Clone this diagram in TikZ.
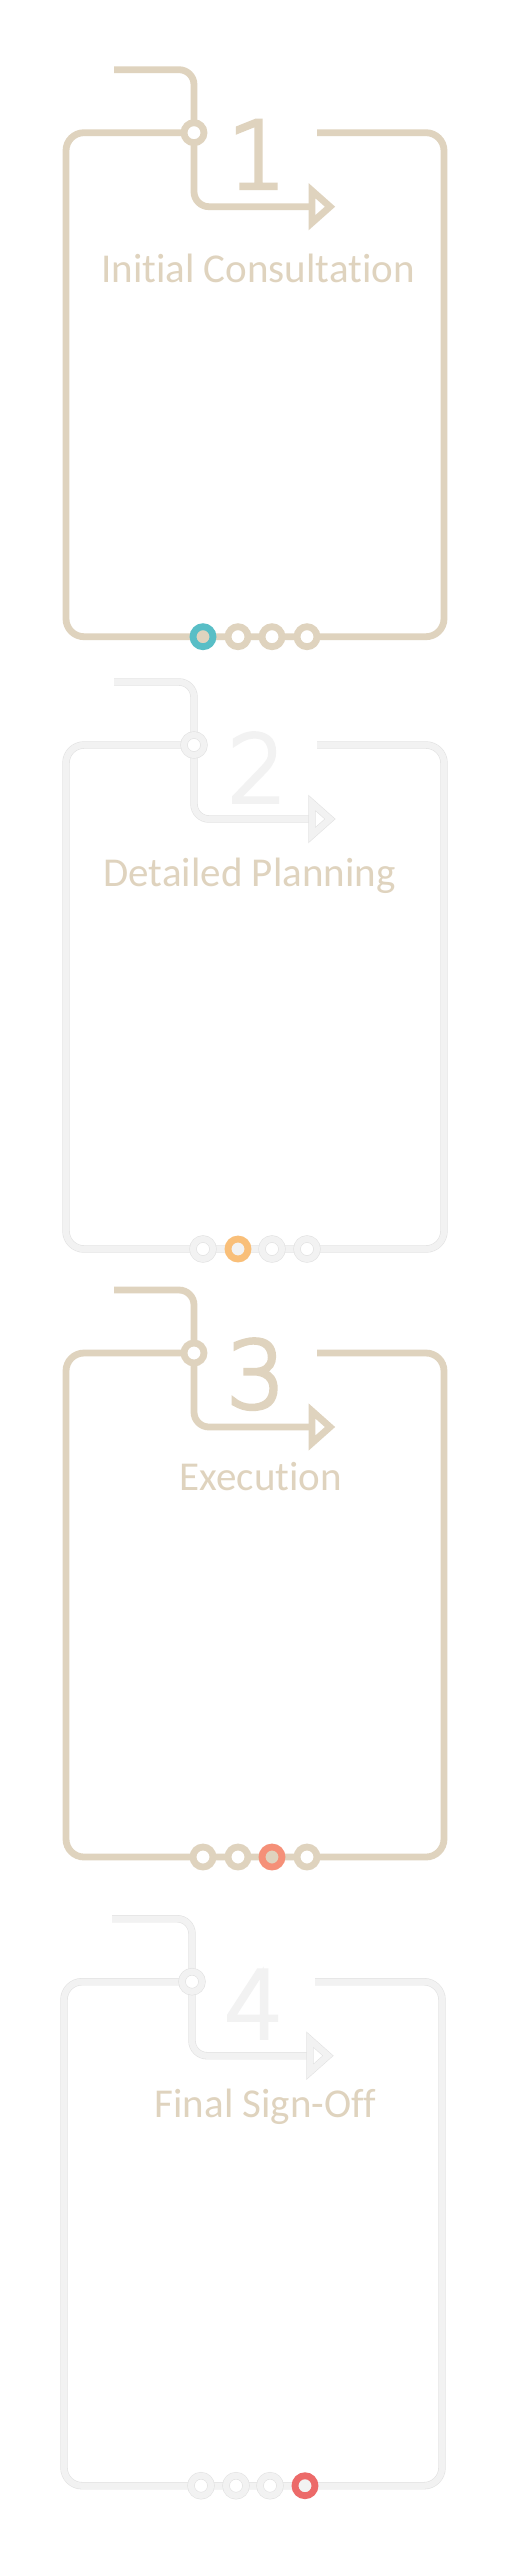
\documentclass[tikz,border=0pt]{standalone}
\usepackage{fontspec}
\setmainfont{Carlito}[Ligatures={NoCommon}]
\IfFontExistsTF{DejaVu Sans ExtraLight}
  {\newfontfamily\digitfont{DejaVu Sans ExtraLight}[FakeBold=4]}
  {\newfontfamily\digitfont{DejaVu Sans}}
\definecolor{beige}{RGB}{223,211,190}
\definecolor{lgrey}{RGB}{242,242,242}
\definecolor{egrey}{RGB}{226,226,226}
\definecolor{teal}{RGB}{88,190,198}
\definecolor{orng}{RGB}{249,191,121}
\definecolor{salmon}{RGB}{245,144,120}
\definecolor{redd}{RGB}{236,106,105}
\tikzset{
  beigeln/.style={draw=beige, line width=6.8pt},
  greyln/.style={draw=egrey, line width=0.6pt, double=lgrey, double distance=6.2pt},
  actln/.style={draw=#1, line width=6.8pt},
  numtext/.style={font=\digitfont\fontsize{93}{93}\selectfont, anchor=base, inner sep=0pt},
  labtext/.style={font=\fontsize{41}{48}\selectfont, text=beige, anchor=base, inner sep=0pt},
}
\newcommand\stageframe[1]{%
  \draw[#1, rounded corners=15pt] (114,-63) -- (194,-63) -- (194,74) -- (312,74);
  \draw[#1, rounded corners=18pt] (194,0) -- (66,0) -- (66,504) -- (444,504) -- (444,0) -- (317,0);
  \draw[#1, fill=white, line join=miter] (312,58) -- (312,90) -- (330,74) -- cycle;
  \draw[#1, fill=white] (194,0) circle[radius=10pt];
}
\begin{document}
\begin{tikzpicture}[x=1pt, y=-1pt]
\useasboundingbox[fill=white] (0,0) rectangle (520,2560);

% Stage 1
\begin{scope}[shift={(0,132.7)}]
  \stageframe{beigeln}
  \draw[actln=teal, fill=beige] (203,504) circle[radius=10pt];
  \draw[beigeln, fill=white] (238,504) circle[radius=10pt];
  \draw[beigeln, fill=white] (272,504) circle[radius=10pt];
  \draw[beigeln, fill=white] (307,504) circle[radius=10pt];
  \node[numtext, text=beige] (num1) at (257,55.5) {1};
\end{scope}
\node[labtext] (lab1) at (258,282) {Initial Consultation};

% Stage 2
\begin{scope}[shift={(0,745)}]
  \stageframe{greyln}
  \draw[greyln, fill=white] (203,504) circle[radius=10pt];
  \draw[actln=orng, fill=lgrey] (238,504) circle[radius=10pt];
  \draw[greyln, fill=white] (272,504) circle[radius=10pt];
  \draw[greyln, fill=white] (307,504) circle[radius=10pt];
  \node[numtext, text=lgrey] (num2) at (257,57) {2};
\end{scope}
\node[labtext] (lab2) at (249.5,886) {Detailed Planning};

% Stage 3
\begin{scope}[shift={(0,1353)}]
  \stageframe{beigeln}
  \draw[beigeln, fill=white] (203,504) circle[radius=10pt];
  \draw[beigeln, fill=white] (238,504) circle[radius=10pt];
  \draw[actln=salmon, fill=beige] (272,504) circle[radius=10pt];
  \draw[beigeln, fill=white] (307,504) circle[radius=10pt];
  \node[numtext, text=beige] (num3) at (256,55) {3};
\end{scope}
\node[labtext] (lab3) at (261,1490) {Execution};

% Stage 4
\begin{scope}[shift={(-2,1981.7)}]
  \stageframe{greyln}
  \draw[greyln, fill=white] (203,504) circle[radius=10pt];
  \draw[greyln, fill=white] (238,504) circle[radius=10pt];
  \draw[greyln, fill=white] (272,504) circle[radius=10pt];
  \draw[actln=redd, fill=lgrey] (307,504) circle[radius=10pt];
  \node[numtext, text=lgrey] (num4) at (256,56.3) {4};
\end{scope}
\node[labtext] (lab4) at (265.5,2117) {Final Sign-Off};
\end{tikzpicture}
\end{document}
